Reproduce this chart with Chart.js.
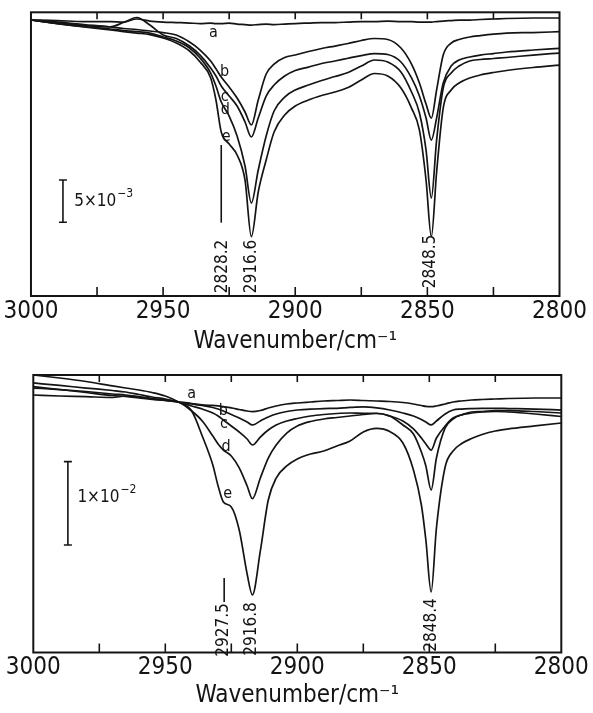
<!DOCTYPE html>
<html><head><meta charset="utf-8">
<script src="https://cdn.jsdelivr.net/npm/chart.js@4.4.1/dist/chart.umd.min.js"></script>
<style>
html,body{margin:0;padding:0;background:#fff;}
#wrap{position:relative;width:593px;height:713px;overflow:hidden;background:#fff;}
.panel{position:absolute;left:0;width:593px;}
#p1{top:0;height:356px;}
#p2{top:356px;height:357px;}
</style></head><body>
<div id="wrap">
  <div class="panel" id="p1"><canvas id="c1"></canvas></div>
  <div class="panel" id="p2"><canvas id="c2"></canvas></div>
</div>
<script>
// ---------- DATA (values in units of 1e-3, wavenumbers in cm^-1) ----------
const wnTop = [3000, 2990, 2980, 2970, 2965, 2960, 2955, 2950, 2945, 2940, 2936, 2932, 2930, 2928, 2925, 2922, 2919, 2916.6, 2914, 2911, 2908, 2904, 2900, 2895, 2890, 2885, 2880, 2875, 2870, 2865, 2860, 2856, 2853, 2850.5, 2848.5, 2846.5, 2844, 2841, 2838, 2834, 2830, 2825, 2820, 2810, 2800];
const topA = [0, -0.06, -0.18, -0.18, -0.24, 0.12, -0.12, -0.24, -0.3, -0.36, -0.42, -0.36, -0.42, -0.42, -0.36, -0.48, -0.54, -0.6, -0.54, -0.48, -0.54, -0.48, -0.42, -0.36, -0.3, -0.3, -0.24, -0.18, -0.18, -0.12, -0.18, -0.18, -0.24, -0.24, -0.24, -0.18, -0.12, -0.06, 0, 0, 0.06, 0.12, 0.18, 0.24, 0.24];
const topB = [0, -0.24, -0.54, -0.83, -1.01, -1.13, -1.31, -1.49, -1.79, -2.62, -3.57, -4.88, -5.81, -6.79, -7.98, -9.29, -10.95, -12.5, -9.52, -6.43, -5.24, -4.46, -4.17, -3.75, -3.39, -3.10, -2.80, -2.44, -2.20, -2.32, -3.33, -5.24, -7.5, -10.0, -11.67, -8.33, -4.17, -2.74, -2.32, -2.02, -1.85, -1.67, -1.55, -1.49, -1.39];
const topC = [0, -0.36, -0.65, -0.8, -0.3, 0.3, -0.6, -1.79, -2.20, -3.10, -4.17, -5.71, -6.67, -7.86, -9.05, -10.24, -12.14, -13.93, -11.67, -9.05, -7.74, -6.67, -6.01, -5.6, -5.18, -4.88, -4.55, -4.23, -3.99, -4.11, -5.0, -6.9, -9.05, -11.67, -14.29, -11.67, -7.5, -5.48, -4.76, -4.4, -4.17, -3.99, -3.81, -3.57, -3.37];
const topD = [0, -0.42, -0.77, -1.07, -1.25, -1.37, -1.55, -2.02, -2.5, -3.33, -4.52, -6.31, -7.86, -9.76, -11.43, -13.81, -17.38, -21.79, -17.86, -13.81, -10.83, -9.17, -8.33, -7.74, -7.2, -6.73, -6.25, -5.48, -4.76, -5.0, -6.19, -8.57, -11.07, -15.48, -21.19, -14.29, -8.1, -6.31, -5.48, -4.88, -4.7, -4.58, -4.46, -4.17, -3.93];
const topE = [0, -0.42, -0.83, -1.19, -1.37, -1.55, -1.73, -2.14, -2.74, -3.69, -5.0, -6.9, -9.52, -13.33, -14.76, -16.07, -19.05, -25.8, -20.48, -16.67, -13.33, -11.31, -10.24, -9.52, -8.99, -8.57, -8.04, -7.14, -6.37, -6.67, -8.1, -10.48, -13.1, -19.05, -25.8, -18.1, -10.48, -8.33, -7.5, -6.9, -6.55, -6.25, -6.01, -5.65, -5.36];

const wnBot = [3000, 2990, 2980, 2970, 2965, 2960, 2955, 2950, 2945, 2940, 2936, 2932, 2930, 2928, 2925, 2922, 2919, 2917, 2914, 2911, 2908, 2904, 2900, 2895, 2890, 2885, 2880, 2875, 2870, 2865, 2860, 2856, 2853, 2851.3, 2849.3, 2847.3, 2844, 2841, 2838, 2834, 2830, 2825, 2820, 2810, 2800];
const botA = [0.36, 0.24, 0.16, 0.06, 0.24, 0.12, -0.12, -0.3, -0.48, -0.66, -0.84, -0.9, -0.96, -1.05, -1.2, -1.39, -1.57, -1.65, -1.51, -1.2, -0.96, -0.72, -0.6, -0.48, -0.36, -0.3, -0.24, -0.3, -0.36, -0.42, -0.54, -0.72, -0.9, -1.02, -1.05, -0.96, -0.72, -0.48, -0.36, -0.24, -0.18, -0.12, -0.06, 0, 0];
const botB = [1.36, 1.02, 0.66, 0.3, 0.18, 0, -0.18, -0.3, -0.48, -0.72, -0.9, -1.14, -1.33, -1.57, -1.99, -2.41, -2.89, -3.25, -2.77, -2.29, -1.93, -1.63, -1.45, -1.33, -1.27, -1.24, -1.14, -1.08, -1.2, -1.45, -1.81, -2.17, -2.59, -2.89, -3.25, -2.77, -1.93, -1.45, -1.33, -1.27, -1.24, -1.24, -1.27, -1.33, -1.45];
const botC = [1.81, 1.51, 1.2, 0.9, 0.72, 0.42, 0.12, -0.12, -0.48, -0.96, -1.33, -1.81, -2.17, -2.65, -3.37, -4.1, -4.94, -5.66, -4.7, -3.86, -3.25, -2.77, -2.47, -2.17, -1.99, -1.87, -1.81, -1.84, -1.84, -2.17, -2.77, -3.73, -4.82, -5.54, -6.27, -4.82, -3.37, -2.41, -2.05, -1.69, -1.63, -1.51, -1.51, -1.63, -1.81];
const botD = [1.2, 1.02, 0.78, 0.48, 0.36, 0.18, -0.06, -0.24, -0.48, -1.57, -2.77, -4.58, -5.54, -6.27, -6.99, -8.43, -10.6, -12.14, -9.64, -7.23, -5.66, -4.22, -3.37, -2.83, -2.53, -2.35, -2.17, -1.99, -1.87, -2.17, -3.25, -4.34, -6.51, -8.19, -11.08, -7.23, -3.61, -2.53, -2.05, -1.81, -1.69, -1.63, -1.69, -1.93, -2.23];
const botE = [2.77, 2.41, 1.99, 1.45, 1.2, 0.96, 0.66, 0.24, -0.48, -1.57, -4.58, -8.07, -10.6, -12.53, -13.13, -15.9, -21.2, -23.73, -18.43, -12.29, -9.64, -8.19, -7.35, -6.75, -6.39, -5.78, -5.18, -4.1, -3.67, -4.04, -5.42, -8.67, -12.89, -17.11, -23.37, -15.66, -8.31, -6.39, -5.54, -4.88, -4.4, -3.98, -3.73, -3.37, -3.01];

const seriesNames = ['a', 'b', 'c', 'd', 'e'];
const tickMarks = [2975, 2950, 2925, 2900, 2875, 2850, 2825];
const peakLabelsTop = ['2828.2', '2916.6', '2848.5'];
const peakLabelsBot = ['2927.5', '2916.8', '2848.4'];
const xTitle = 'Wavenumber/cm\u207B\u00B9';

// ---------- ANNOTATION PLACEMENT (data coordinates) ----------
const annTop = {
  letters: [[2931.0, -1.55], [2926.7, -6.15], [2926.7, -9.13], [2926.5, -10.71], [2926.1, -13.89]],
  peaks: [[2927.6, -29.35], [2916.45, -29.35], [2848.6, -28.75]],
  marker: [2928.0, -14.88, -24.13],
  bar: [2987.9, -19.05, -24.08],
  barText: ['5\u00D710', '\u22123', 2983.6, -21.6]
};
const annBot = {
  letters: [[2940.0, 0.52], [2928.0, -1.6], [2927.8, -3.1], [2927.0, -5.9], [2926.4, -11.53]],
  peaks: [[2927.8, -27.95], [2917.5, -27.83], [2849.1, -27.35]],
  marker: [2927.7, -21.69, -24.58],
  bar: [2986.9, -7.67, -17.71],
  barText: ['1\u00D710', '\u22122', 2983.3, -12.05]
};

const FONT = "'Liberation Sans Narrow', 'DejaVu Sans Condensed', 'Liberation Sans', sans-serif";
const INK = '#141414';

const decor = {
  id: 'decor',
  afterDatasetsDraw(chart, args, o) {
    const ann = o.ann;
    const {ctx, chartArea: a} = chart;
    const x = chart.scales.x, y = chart.scales.y;
    const X = v => x.getPixelForValue(v), Y = v => y.getPixelForValue(v);
    ctx.save();
    ctx.strokeStyle = INK; ctx.fillStyle = INK;
    ctx.lineCap = 'butt';
    ctx.lineWidth = 2;
    ctx.strokeRect(a.left, a.top, a.right - a.left, a.bottom - a.top);
    ctx.lineWidth = 1.6;
    ctx.beginPath();
    tickMarks.forEach(t => {
      const px = X(t);
      ctx.moveTo(px, a.bottom); ctx.lineTo(px, a.bottom - 9);
      ctx.moveTo(px, a.top); ctx.lineTo(px, a.top + 7);
    });
    ctx.stroke();
    ctx.font = '16px ' + FONT;
    ctx.textAlign = 'center'; ctx.textBaseline = 'middle';
    ann.letters.forEach((p, i) => ctx.fillText(seriesNames[i], X(p[0]), Y(p[1])));
    ctx.font = '17px ' + FONT;
    ann.peaks.forEach((p, i) => {
      ctx.save();
      ctx.translate(X(p[0]), Y(p[1]));
      ctx.rotate(-Math.PI / 2);
      ctx.fillText(o.peakText[i], 0, 0);
      ctx.restore();
    });
    ctx.lineWidth = 1.6;
    ctx.beginPath();
    ctx.moveTo(X(ann.marker[0]), Y(ann.marker[1]));
    ctx.lineTo(X(ann.marker[0]), Y(ann.marker[2]));
    ctx.stroke();
    const bx = X(ann.bar[0]), by1 = Y(ann.bar[1]), by2 = Y(ann.bar[2]);
    ctx.beginPath();
    ctx.moveTo(bx, by1); ctx.lineTo(bx, by2);
    ctx.moveTo(bx - 4, by1); ctx.lineTo(bx + 4, by1);
    ctx.moveTo(bx - 4, by2); ctx.lineTo(bx + 4, by2);
    ctx.stroke();
    ctx.textAlign = 'left';
    ctx.font = '17px ' + FONT;
    const tx = X(ann.barText[2]), ty = Y(ann.barText[3]);
    ctx.fillText(ann.barText[0], tx, ty);
    const w = ctx.measureText(ann.barText[0]).width;
    ctx.font = '12px ' + FONT;
    ctx.fillText(ann.barText[1], tx + w + 1, ty - 8);
    ctx.restore();
  }
};

function makeChart(id, wn, series, ann, peakText, yMin, yMax, pad, tickPad, titlePad) {
  const datasets = series.map((s, i) => ({
    label: seriesNames[i],
    data: wn.map((w, k) => ({x: w, y: s[k]})),
    borderColor: INK,
    borderWidth: 1.7,
    pointRadius: 0,
    fill: false,
    cubicInterpolationMode: 'monotone'
  }));
  return new Chart(document.getElementById(id), {
    type: 'line',
    data: {datasets},
    options: {
      responsive: true,
      maintainAspectRatio: false,
      animation: false,
      events: [],
      layout: {padding: pad},
      plugins: {legend: {display: false}, tooltip: {enabled: false}, decor: {ann, peakText}},
      scales: {
        x: {
          type: 'linear', min: 2800, max: 3000, reverse: true,
          grid: {display: false, drawTicks: false},
          border: {display: false},
          ticks: {stepSize: 50, padding: tickPad, color: INK,
                  font: {family: FONT, size: 24, lineHeight: 1},
                  callback: v => String(v), maxRotation: 0, autoSkip: false},
          title: {display: true, text: xTitle, color: INK,
                  font: {family: FONT, size: 24, lineHeight: 1},
                  padding: titlePad}
        },
        y: {type: 'linear', display: false, min: yMin, max: yMax}
      }
    },
    plugins: [decor]
  });
}

makeChart('c1', wnTop, [topA, topB, topC, topD, topE], annTop, peakLabelsTop,
  -32.86, 0.92, {left: 30.5, right: 33.5, top: 12.3, bottom: 2}, 3.5, {top: 3, bottom: 0});
makeChart('c2', wnBot, [botA, botB, botC, botD, botE], annBot, peakLabelsBot,
  -30.66, 2.77, {left: 33.3, right: 31.7, top: 19, bottom: 5.5}, 3.5, {top: 0, bottom: 0});
</script>
</body></html>
